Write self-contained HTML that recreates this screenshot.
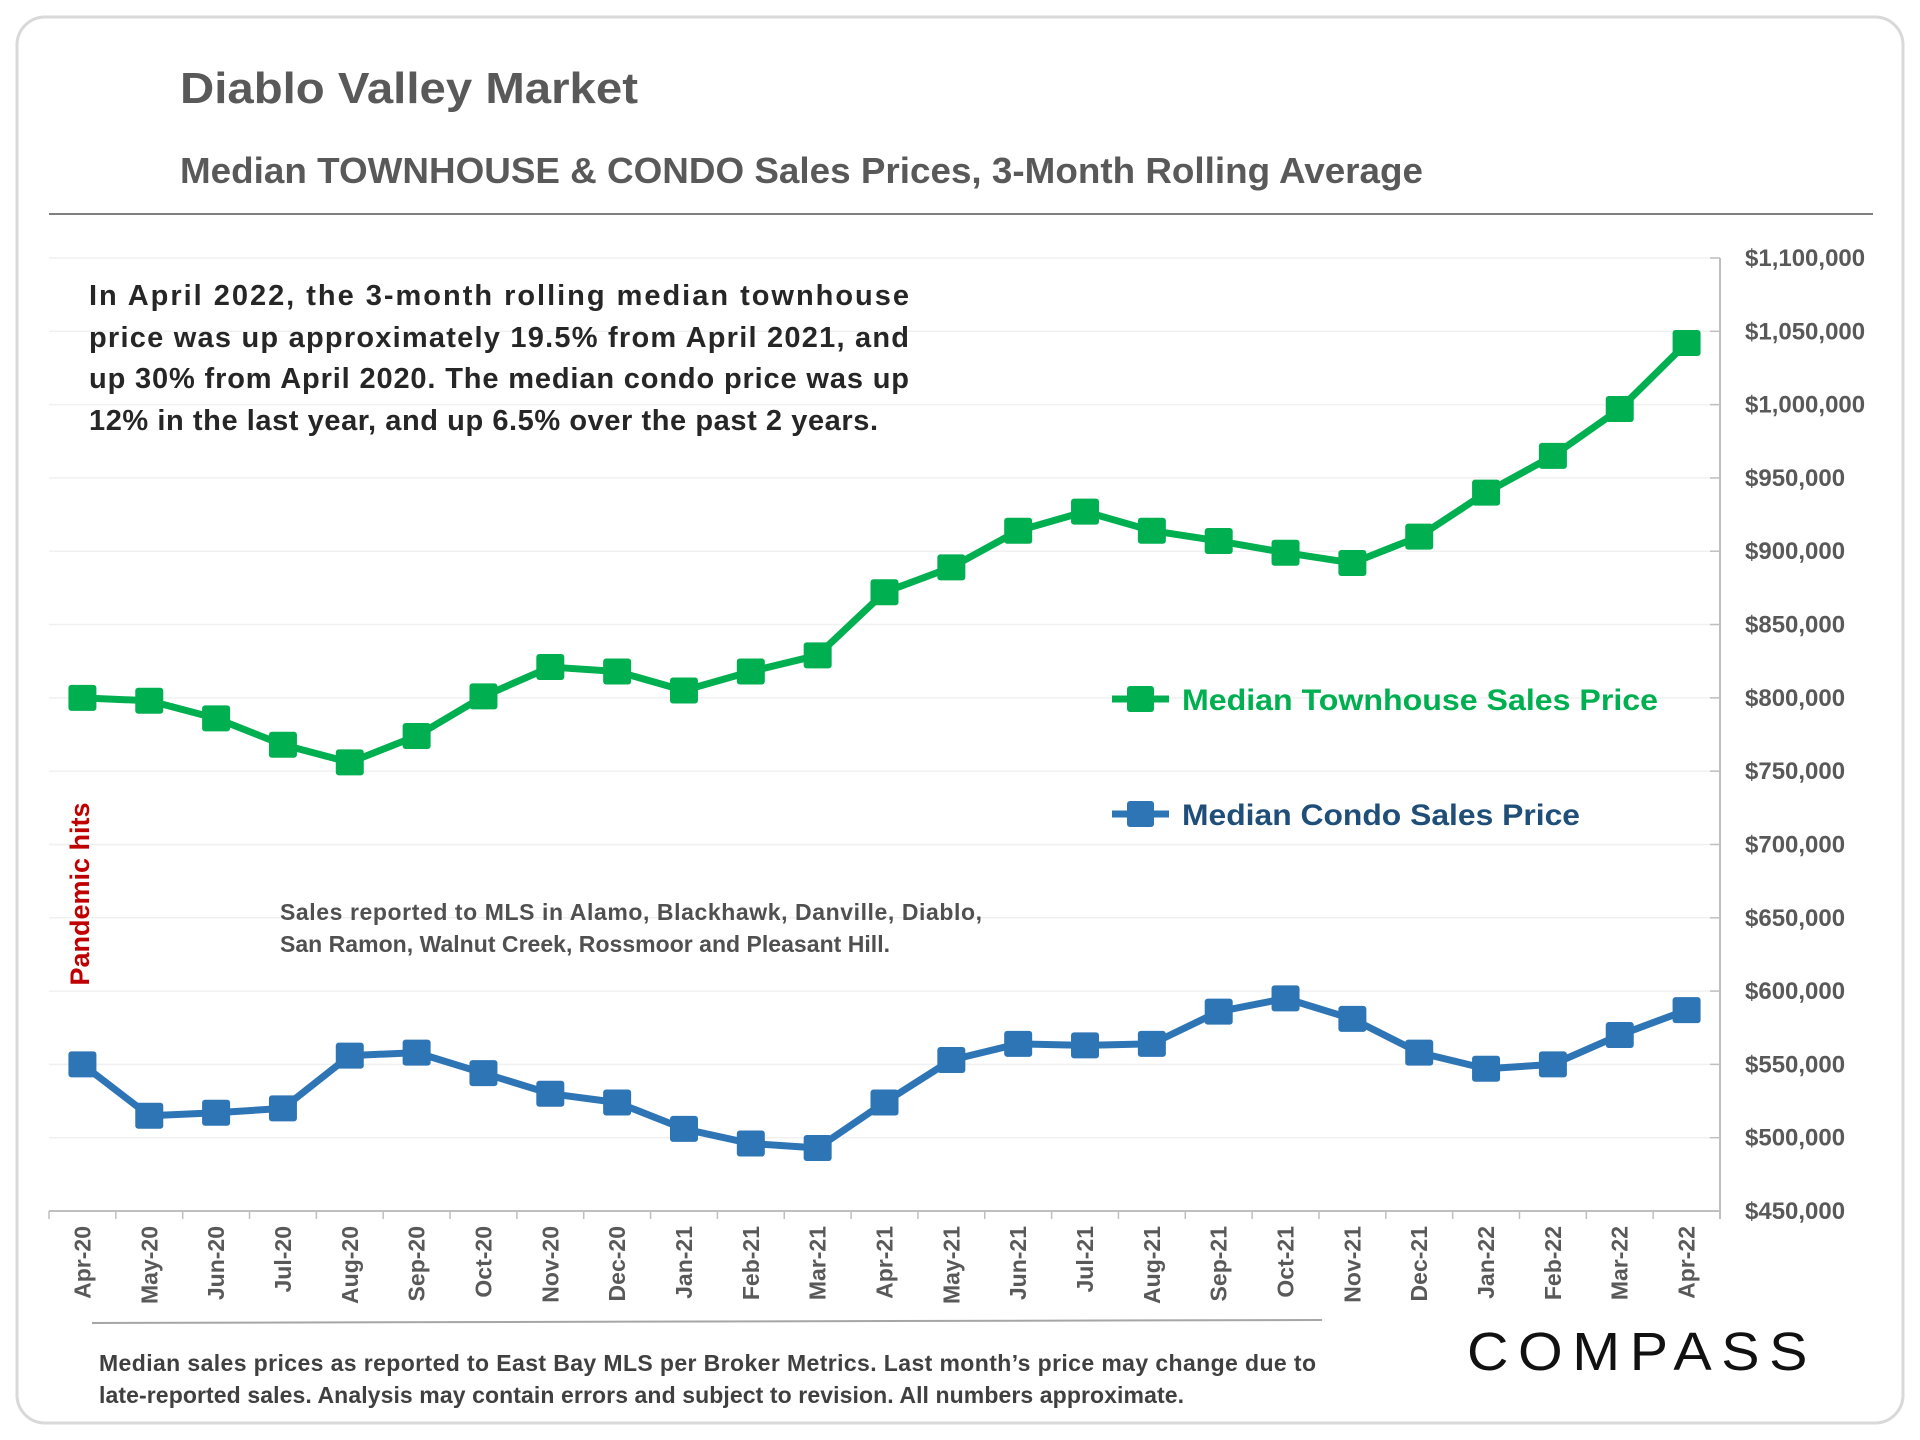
<!DOCTYPE html>
<html><head><meta charset="utf-8"><style>
html,body{margin:0;padding:0;background:#fff;}
svg{display:block;font-family:"Liberation Sans",Arial,sans-serif;}
</style></head><body>
<svg id="chart" width="1920" height="1440" viewBox="0 0 1920 1440" xmlns="http://www.w3.org/2000/svg">
<rect x="17" y="17" width="1886" height="1406" rx="28" fill="#fff" stroke="#d9d9d9" stroke-width="3"/>
<text x="180" y="103" font-size="44" font-weight="bold" fill="#595959" textLength="458" lengthAdjust="spacingAndGlyphs">Diablo Valley Market</text>
<text x="180" y="183" font-size="36" font-weight="bold" fill="#595959" textLength="1243" lengthAdjust="spacingAndGlyphs">Median TOWNHOUSE &amp; CONDO Sales Prices, 3-Month Rolling Average</text>
<line x1="49" y1="214" x2="1873" y2="214" stroke="#7f7f7f" stroke-width="2"/>
<g id="grid"></g>
<g font-size="29" font-weight="bold" fill="#262626">
<text x="89" y="305" textLength="820" lengthAdjust="spacing">In April 2022, the 3-month rolling median townhouse</text>
<text x="89" y="347" textLength="820" lengthAdjust="spacing">price was up approximately 19.5% from April 2021, and</text>
<text x="89" y="388" textLength="820" lengthAdjust="spacing">up 30% from April 2020. The median condo price was up</text>
<text x="89" y="430" textLength="789" lengthAdjust="spacing">12% in the last year, and up 6.5% over the past 2 years.</text>
</g>
<text transform="translate(89,894) rotate(-90)" text-anchor="middle" font-size="27" font-weight="bold" fill="#C00000">Pandemic hits</text>
<g font-size="23" font-weight="bold" fill="#505050">
<text x="280" y="920" textLength="702" lengthAdjust="spacing">Sales reported to MLS in Alamo, Blackhawk, Danville, Diablo,</text>
<text x="280" y="952" textLength="610" lengthAdjust="spacing">San Ramon, Walnut Creek, Rossmoor and Pleasant Hill.</text>
</g>
<g id="axes"></g>
<g id="series"></g>
<g>
<g>
<line x1="1112" y1="699" x2="1169" y2="699" stroke="#00B050" stroke-width="7"/>
<rect x="1127" y="686" width="27" height="26" rx="3" fill="#00B050"/>
<text x="1182" y="710" font-size="30" font-weight="bold" fill="#00B050" textLength="476" lengthAdjust="spacingAndGlyphs">Median Townhouse Sales Price</text>
</g>
<g>
<line x1="1112" y1="814" x2="1169" y2="814" stroke="#2E75B6" stroke-width="7"/>
<rect x="1127" y="801" width="27" height="26" rx="3" fill="#2E75B6"/>
<text x="1182" y="825" font-size="30" font-weight="bold" fill="#1F4E79" textLength="398" lengthAdjust="spacingAndGlyphs">Median Condo Sales Price</text>
</g>
</g>
<line x1="92" y1="1323" x2="1322" y2="1320" stroke="#a6a6a6" stroke-width="2"/>
<g font-size="23" font-weight="bold" fill="#404040">
<text x="99" y="1371" textLength="1217" lengthAdjust="spacing">Median sales prices as reported to East Bay MLS per Broker Metrics. Last month’s price may change due to</text>
<text x="99" y="1403" textLength="1085" lengthAdjust="spacing">late-reported sales. Analysis may contain errors and subject to revision. All numbers approximate.</text>
</g>
<text x="1467" y="1370" font-size="54" fill="#111" letter-spacing="9" textLength="350" lengthAdjust="spacingAndGlyphs">COMPASS</text>
</svg>
<script>
const months = ["Apr-20","May-20","Jun-20","Jul-20","Aug-20","Sep-20","Oct-20","Nov-20","Dec-20","Jan-21","Feb-21","Mar-21","Apr-21","May-21","Jun-21","Jul-21","Aug-21","Sep-21","Oct-21","Nov-21","Dec-21","Jan-22","Feb-22","Mar-22","Apr-22"];
const townhouse = [800000,798000,786000,768000,756000,774000,801000,821000,818000,805000,818000,829000,872000,889000,914000,927000,914000,907000,899000,892000,910000,940000,965000,997000,1042000];
const condo = [550000,515000,517000,520000,556000,558000,544000,530000,524000,506000,496000,493000,524000,553000,564000,563000,564000,586000,595000,581000,558000,547000,550000,570000,587000];
const yTicks = [450000,500000,550000,600000,650000,700000,750000,800000,850000,900000,950000,1000000,1050000,1100000];

const NS = "http://www.w3.org/2000/svg";
const X0 = 49, X1 = 1720, Y0 = 1211, Y1 = 258, VMIN = 450000, VMAX = 1100000;
const band = (X1 - X0) / months.length;
function xScale(i){ return X0 + band * (i + 0.5); }
function yScale(v){ return Y0 - (v - VMIN) / (VMAX - VMIN) * (Y0 - Y1); }
function mk(tag, attrs, parent){ const e = document.createElementNS(NS, tag); for (const k in attrs) e.setAttribute(k, attrs[k]); parent.appendChild(e); return e; }
function fmt(v){ return "$" + v.toLocaleString("en-US"); }

const grid = document.getElementById("grid");
const axes = document.getElementById("axes");
const series = document.getElementById("series");

yTicks.forEach(v => {
  const y = yScale(v);
  if (v > VMIN) {
    const g = mk("line", {x1: X0, x2: X1, y1: y, y2: y, stroke: "#f0f0f0", "stroke-width": 1.5}, grid);
    
    
  }
  const t = mk("line", {x1: X1 - 10, x2: X1, y1: y, y2: y, stroke: "#bfbfbf", "stroke-width": 1.5}, axes);
  
  
  const lbl = mk("text", {x: 1745, y: y + 8, "font-size": 24, "font-weight": "bold", fill: "#595959"}, axes);
  lbl.textContent = fmt(v);
  
  
});
const ya = mk("line", {x1: X1, x2: X1, y1: Y1, y2: Y0 + 8, stroke: "#bfbfbf", "stroke-width": 2}, axes);


const xa = mk("line", {x1: X0, x2: X1, y1: Y0, y2: Y0, stroke: "#bfbfbf", "stroke-width": 2}, axes);


for (let i = 0; i <= months.length; i++) {
  const x = X0 + band * i;
  const tk = mk("line", {x1: x, x2: x, y1: Y0, y2: Y0 + 8, stroke: "#bfbfbf", "stroke-width": 1.5}, axes);
  
  
}
months.forEach((m, i) => {
  const x = xScale(i);
  const t = mk("text", {transform: `translate(${x + 8},1226) rotate(-90)`, "text-anchor": "end", "font-size": 23, "font-weight": "bold", fill: "#595959"}, axes);
  t.textContent = m;
  
  
});

function drawSeries(vals, color, name){
  const pts = vals.map((v, i) => xScale(i) + "," + yScale(v)).join(" ");
  const line = mk("polyline", {points: pts, fill: "none", stroke: color, "stroke-width": 7, "stroke-linejoin": "round"}, series);
  
  
  vals.forEach((v, i) => {
    const r = mk("rect", {x: xScale(i) - 14, y: yScale(v) - 13, width: 28, height: 26, rx: 3, fill: color}, series);
    
    
  });
}
drawSeries(townhouse, "#00B050", "townhouse");
drawSeries(condo, "#2E75B6", "condo");
</script>
</body></html>
